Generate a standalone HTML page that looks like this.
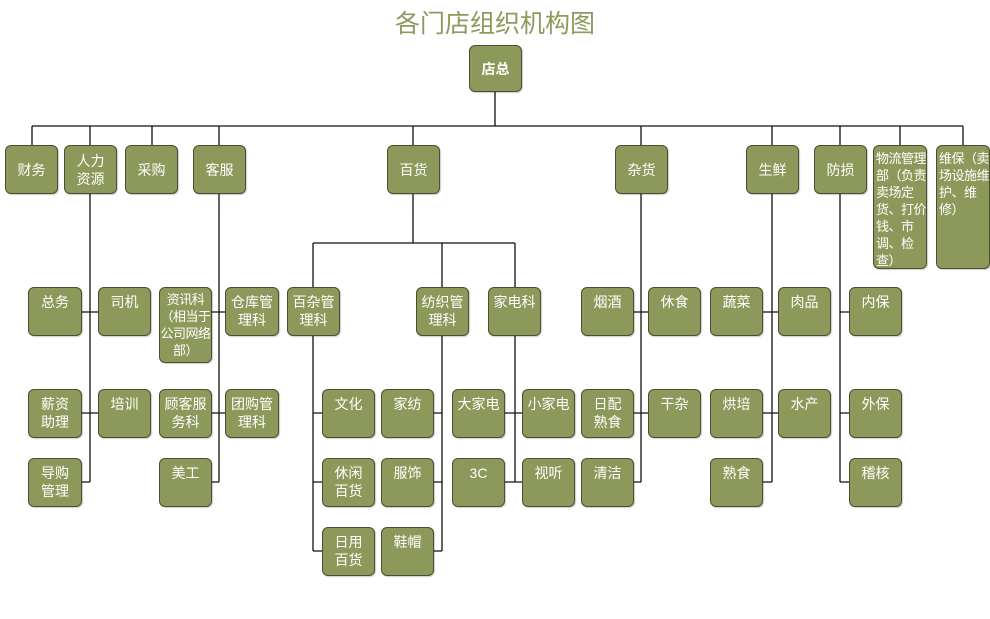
<!DOCTYPE html>
<html><head><meta charset="utf-8"><style>
body{margin:0;width:990px;height:619px;background:#fff;position:relative;overflow:hidden;font-family:"Liberation Sans","Noto Sans CJK SC",sans-serif}
.t{position:absolute;left:0;width:990px;top:4px;text-align:center;font-size:25px;color:#8c9a5e}
.b{position:absolute;box-sizing:border-box;background:#8c995a;border:1px solid #4a4f32;border-radius:6px;color:#fff;font-size:14px;line-height:18px;text-align:center;padding-top:5px;box-shadow:1px 1px 1px rgba(0,0,0,.2)}
.c{display:flex;align-items:center;justify-content:center;padding-top:0}
.l{text-align:left;padding:4px 0 0 2px;font-size:13px;line-height:17px;white-space:nowrap;letter-spacing:-0.5px;overflow:hidden}
svg{position:absolute;left:0;top:0}
</style></head><body>
<div class="t">各门店组织机构图</div>
<svg width="990" height="619" stroke="#111" stroke-width="1.3" fill="none">
<path d="M495 92V126M32 126H963M32 126V145M90 126V145M152 126V145M219 126V145M413 126V145M641 126V145M772 126V145M840 126V145M900 126V145M963 126V145"/>
<path d="M90 194V482M82 312H98M82 413H98M82 482H90"/>
<path d="M219 194V482M212 312H225M212 413H225M212 482H219"/>
<path d="M413 194V243M313 243H515M313 243V287M442 243V287M515 243V287"/>
<path d="M313 336V551M313 413H322M313 482H322M313 551H322"/>
<path d="M442 336V551M434 413H442M434 482H442M434 551H442"/>
<path d="M515 336V482M505 413H522M505 482H522"/>
<path d="M641 194V482M634 312H648M634 413H648M634 482H641"/>
<path d="M772 194V482M763 312H778M763 413H778M763 482H772"/>
<path d="M840 194V482M840 312H849M840 413H849M840 482H849"/>
</svg>
<div class="b c" style="left:469px;top:45px;width:53px;height:47px;font-weight:bold">店总</div>
<div class="b c" style="left:5px;top:145px;width:53px;height:49px">财务</div>
<div class="b c" style="left:64px;top:145px;width:53px;height:49px">人力<br>资源</div>
<div class="b c" style="left:125px;top:145px;width:53px;height:49px">采购</div>
<div class="b c" style="left:193px;top:145px;width:53px;height:49px">客服</div>
<div class="b c" style="left:387px;top:145px;width:53px;height:49px">百货</div>
<div class="b c" style="left:615px;top:145px;width:53px;height:49px">杂货</div>
<div class="b c" style="left:746px;top:145px;width:53px;height:49px">生鲜</div>
<div class="b c" style="left:814px;top:145px;width:53px;height:49px">防损</div>
<div class="b l" style="left:873px;top:145px;width:54px;height:124px">物流管理<br>部（负责<br>卖场定<br>货、打价<br>钱、市<br>调、检<br>查）</div>
<div class="b l" style="left:936px;top:145px;width:54px;height:124px">维保（卖<br>场设施维<br>护、维<br>修）</div>

<div class="b" style="left:28px;top:287px;width:54px;height:49px">总务</div>
<div class="b" style="left:98px;top:287px;width:53px;height:49px">司机</div>
<div class="b" style="left:159px;top:287px;width:53px;height:76px;padding-top:3px;font-size:13px;line-height:17px;white-space:nowrap;letter-spacing:-0.5px">资讯科<br>（相当于<br>公司网络<br>部）</div>
<div class="b" style="left:225px;top:287px;width:54px;height:49px">仓库管<br>理科</div>
<div class="b" style="left:287px;top:287px;width:53px;height:49px">百杂管<br>理科</div>
<div class="b" style="left:416px;top:287px;width:53px;height:49px">纺织管<br>理科</div>
<div class="b" style="left:488px;top:287px;width:53px;height:49px">家电科</div>
<div class="b" style="left:581px;top:287px;width:53px;height:49px">烟酒</div>
<div class="b" style="left:648px;top:287px;width:53px;height:49px">休食</div>
<div class="b" style="left:710px;top:287px;width:53px;height:49px">蔬菜</div>
<div class="b" style="left:778px;top:287px;width:53px;height:49px">肉品</div>
<div class="b" style="left:849px;top:287px;width:53px;height:49px">内保</div>

<div class="b" style="left:28px;top:389px;width:54px;height:49px">薪资<br>助理</div>
<div class="b" style="left:98px;top:389px;width:53px;height:49px">培训</div>
<div class="b" style="left:159px;top:389px;width:53px;height:49px">顾客服<br>务科</div>
<div class="b" style="left:225px;top:389px;width:54px;height:49px">团购管<br>理科</div>
<div class="b" style="left:322px;top:389px;width:53px;height:49px">文化</div>
<div class="b" style="left:381px;top:389px;width:53px;height:49px">家纺</div>
<div class="b" style="left:452px;top:389px;width:53px;height:49px">大家电</div>
<div class="b" style="left:522px;top:389px;width:53px;height:49px">小家电</div>
<div class="b" style="left:581px;top:389px;width:53px;height:49px">日配<br>熟食</div>
<div class="b" style="left:648px;top:389px;width:53px;height:49px">干杂</div>
<div class="b" style="left:710px;top:389px;width:53px;height:49px">烘培</div>
<div class="b" style="left:778px;top:389px;width:53px;height:49px">水产</div>
<div class="b" style="left:849px;top:389px;width:53px;height:49px">外保</div>

<div class="b" style="left:28px;top:458px;width:54px;height:49px">导购<br>管理</div>
<div class="b" style="left:159px;top:458px;width:53px;height:49px">美工</div>
<div class="b" style="left:322px;top:458px;width:53px;height:49px">休闲<br>百货</div>
<div class="b" style="left:381px;top:458px;width:53px;height:49px">服饰</div>
<div class="b" style="left:452px;top:458px;width:53px;height:49px">3C</div>
<div class="b" style="left:522px;top:458px;width:53px;height:49px">视听</div>
<div class="b" style="left:581px;top:458px;width:53px;height:49px">清洁</div>
<div class="b" style="left:710px;top:458px;width:53px;height:49px">熟食</div>
<div class="b" style="left:849px;top:458px;width:53px;height:49px">稽核</div>

<div class="b" style="left:322px;top:527px;width:53px;height:49px">日用<br>百货</div>
<div class="b" style="left:381px;top:527px;width:53px;height:49px">鞋帽</div>
</body></html>
